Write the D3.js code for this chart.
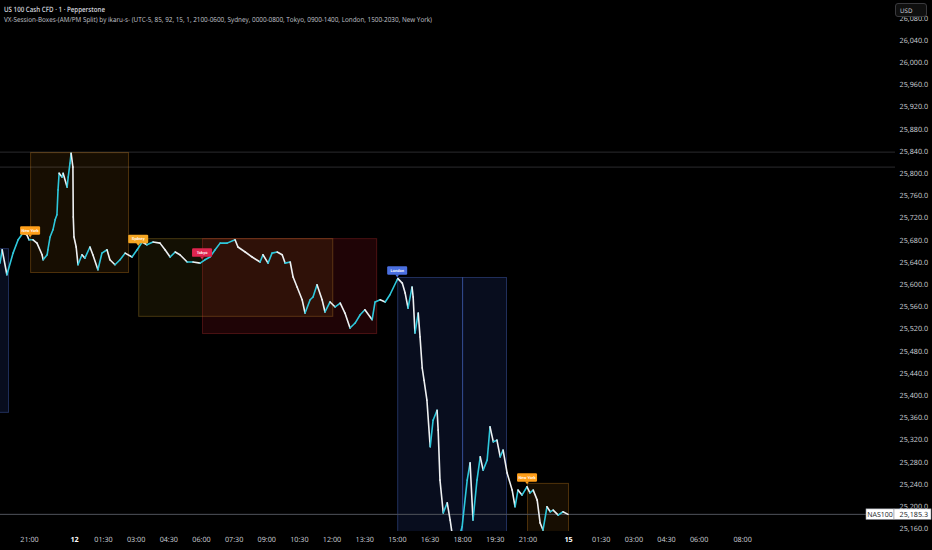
<!DOCTYPE html>
<html><head><meta charset="utf-8">
<script src="https://cdn.jsdelivr.net/npm/d3@7"></script>
<style>
html,body{margin:0;padding:0;background:#000;}
svg{display:block;}
text{text-rendering:geometricPrecision;}
</style></head>
<body>
<svg id="chart" width="932" height="550"></svg>
<script>
// ---- DATA ----
// time in trading minutes from 21:00 (day 11), price closes
const times = [-80,-74,-61,-44,-30,-17,-6,0,11,22,36,39,50,52,58,66,72,77,80,83,91,94,105,108,113,116,121,122,124,130,135,146,154,168,176,190,201,215,223,237,251,265,284,298,312,325,342,361,375,389,403,416,436,452,472,485,499,513,527,546,568,576,596,615,637,645,659,670,684,698,706,720,728,739,753,761,775,783,794,808,816,830,844,858,871,885,899,913,926,946,954,968,982,995,1015,1017,1029,1037,1045,1056,1059,1064,1073,1078,1084,1089,1097,1106,1114,1125,1128,1133,1142,1153,1161,1169,1180,1194,1208,1216,1224,1235,1244,1252,1263,1271,1280,1290,1299,1307,1318,1332,1340,1348,1359,1373,1381,1390,1401,1409,1417,1428,1437,1445,1459,1472,1486];
const closes = [25638,25662,25617,25656,25680,25692,25689,25680,25680,25674,25653,25644,25653,25662,25685,25698,25716,25725,25770,25800,25793,25800,25775,25793,25818,25836,25811,25721,25685,25667,25635,25653,25647,25667,25653,25626,25656,25662,25644,25635,25644,25656,25649,25662,25676,25671,25676,25674,25662,25649,25658,25653,25640,25640,25638,25644,25649,25662,25674,25674,25680,25667,25658,25649,25640,25653,25638,25656,25658,25653,25638,25640,25613,25595,25572,25548,25572,25577,25599,25572,25550,25568,25559,25566,25548,25521,25530,25545,25554,25536,25568,25572,25568,25581,25608,25610,25602,25584,25557,25595,25577,25512,25548,25505,25449,25427,25391,25307,25355,25373,25337,25247,25188,25206,25175,25139,25130,25163,25247,25278,25175,25247,25289,25265,25283,25343,25316,25319,25289,25301,25260,25229,25199,25229,25220,25235,25224,25229,25211,25170,25157,25199,25190,25193,25184,25190,25185.3];

const sessionNames = ["London","New York","Sydney","Tokyo","London","London","New York"];
const sessionStart = [-110,3,301,477,1015,1194,1373];
const sessionEnd   = [-58,273,836,957,1194,1315,1486];
const sessionHigh  = [25665,25838,25683,25683,25613,25613,25242];
const sessionLow   = [25370,25622,25543,25512,25100,25100,25100];
const sessionLabel = [false,true,true,true,true,false,true];

const yTicks = [25160,25200,25240,25280,25320,25360,25400,25440,25480,25520,25560,25600,25640,25680,25720,25760,25800,25840,25880,25920,25960,26000,26040,26080];
const xTickLabels = ["21:00","12","01:30","03:00","04:30","06:00","07:30","09:00","10:30","12:00","13:30","15:00","16:30","18:00","19:30","21:00","15","01:30","03:00","04:30","06:00","08:00"];
const xTickTimes  = [0,124,204,294,384,474,564,654,744,834,924,1014,1104,1194,1284,1374,1486,1576,1666,1756,1846,1966];
const xTickBold   = ["12","15"];
const refLines = [25838,25811];
const lastPrice = 25185.3;
const symbol = "NAS100";

// ---- STYLES ----
const sessColors = {
  "London":  {fill:"rgba(60,100,230,0.13)", stroke:"rgba(90,125,235,0.35)", label:"#4a6fe0"},
  "New York":{fill:"rgba(255,160,20,0.09)", stroke:"rgba(255,160,40,0.28)", label:"#ff9f1a"},
  "Sydney":  {fill:"rgba(255,215,40,0.075)", stroke:"rgba(255,200,60,0.25)", label:"#f5a623"},
  "Tokyo":   {fill:"rgba(220,30,40,0.14)", stroke:"rgba(230,60,60,0.28)", label:"#e0254f"}
};

const W = 932, H = 550;
const plotR = 868, plotB = 531;
const svg = d3.select("#chart");
svg.append("rect").attr("width",W).attr("height",H).attr("fill","#000");

const x = d3.scaleLinear().domain([-80, 2313]).range([0, plotR]);
const y = d3.scaleLinear().domain([25160, 26040]).range([528.4, 40]);

svg.append("defs").append("clipPath").attr("id","clip")
  .append("rect").attr("x",0).attr("y",0).attr("width",plotR).attr("height",plotB);

// reference lines (extend a little into the axis)
svg.selectAll("line.ref").data(refLines).enter().append("line")
  .attr("x1",0).attr("x2",895)
  .attr("y1",d=>y(d)).attr("y2",d=>y(d))
  .attr("stroke","#2b2b2e").attr("stroke-width",1);

const g = svg.append("g").attr("clip-path","url(#clip)");

// session boxes
const sessions = sessionNames.map((n,i)=>({name:n,s:sessionStart[i],e:sessionEnd[i],hi:sessionHigh[i],lo:sessionLow[i],lab:sessionLabel[i]}));
g.selectAll("rect.sess").data(sessions).enter().append("rect")
  .attr("x",d=>x(d.s)+0.5).attr("y",d=>y(d.hi)+0.5)
  .attr("width",d=>x(d.e)-x(d.s)).attr("height",d=>y(d.lo)-y(d.hi))
  .attr("fill",d=>sessColors[d.name].fill)
  .attr("stroke",d=>sessColors[d.name].stroke).attr("stroke-width",1);

// last price line
g.append("line").attr("x1",0).attr("x2",plotR).attr("y1",y(lastPrice)).attr("y2",y(lastPrice))
  .attr("stroke","#50535c").attr("stroke-width",1);

// price series: segments coloured by direction
const pts = times.map((t,i)=>({t,v:closes[i]}));
const segs = pts.slice(1).map((p,i)=>({a:pts[i],b:p}));
g.selectAll("line.seg").data(segs).enter().append("line")
  .attr("x1",d=>x(d.a.t)).attr("y1",d=>y(d.a.v))
  .attr("x2",d=>x(d.b.t)).attr("y2",d=>y(d.b.v))
  .attr("stroke",d=>d.b.v>=d.a.v?"#2ec8dc":"#eef0f2")
  .attr("stroke-width",1.6).attr("stroke-linecap","round");

// session labels
function priceAt(t){
  const i = d3.bisector(d=>d.t).left(pts,t);
  if(i<=0) return pts[0].v;
  if(i>=pts.length) return pts[pts.length-1].v;
  const a=pts[i-1], b=pts[i];
  return a.v + (b.v-a.v)*(t-a.t)/(b.t-a.t);
}
const labs = g.selectAll("g.lab").data(sessions.filter(d=>d.lab)).enter().append("g")
  .attr("transform",d=>`translate(${x(d.s)},${y(priceAt(d.s))-4})`);
labs.append("rect").attr("x",-10).attr("y",-9.5).attr("width",20).attr("height",8.5).attr("rx",1.2)
  .attr("fill",d=>sessColors[d.name].label);
labs.append("path").attr("d","M-2,-1.2L0,1.5L2,-1.2Z").attr("fill",d=>sessColors[d.name].label);
labs.append("text").attr("x",0).attr("y",-3.8).attr("text-anchor","middle")
  .attr("font-family","Roboto, sans-serif").attr("font-size",4).attr("font-weight",600)
  .attr("fill","#fff").text(d=>d.name);

// y axis
const yAxis = svg.append("g").attr("transform",`translate(928,0)`)
  .call(d3.axisLeft(y).tickValues(yTicks).tickSize(0).tickPadding(0)
    .tickFormat(d=>d3.format(",.1f")(d)));
yAxis.select(".domain").remove();
yAxis.selectAll("text").attr("font-family","'Open Sans', sans-serif").attr("font-size",7.2)
  .attr("fill","#d1d4dc");

// x axis
const xAxis = svg.append("g").attr("transform",`translate(0,${plotB})`)
  .call(d3.axisBottom(x).tickValues(xTickTimes).tickSize(0).tickPadding(6)
    .tickFormat((d,i)=>xTickLabels[i]));
xAxis.select(".domain").remove();
xAxis.selectAll("text").attr("font-family","'Open Sans', sans-serif").attr("font-size",7.2)
  .attr("fill",(d,i)=>xTickBold.includes(xTickLabels[i])?"#ffffff":"#d1d4dc")
  .attr("font-weight",(d,i)=>xTickBold.includes(xTickLabels[i])?700:400);

// last price labels
const ly = y(lastPrice);
svg.append("rect").attr("x",866).attr("y",ly-5.5).attr("width",28).attr("height",10.5).attr("fill","#fff").attr("stroke","#9598a1").attr("stroke-width",0.6);
svg.append("rect").attr("x",894).attr("y",ly-5.5).attr("width",37).attr("height",10.5).attr("fill","#fff").attr("stroke","#9598a1").attr("stroke-width",0.6);
svg.append("text").attr("x",880).attr("y",ly+2.5).attr("text-anchor","middle")
  .attr("font-family","'Open Sans', sans-serif").attr("font-size",7).attr("fill","#131722").text(symbol);
svg.append("text").attr("x",928).attr("y",ly+2.5).attr("text-anchor","end")
  .attr("font-family","'Open Sans', sans-serif").attr("font-size",7.2).attr("fill","#131722").text(d3.format(",.1f")(lastPrice));

// USD button
svg.append("rect").attr("x",895.5).attr("y",3.5).attr("width",31).attr("height",13).attr("rx",2.5)
  .attr("fill","#0f0f0f").attr("stroke","#3a3a3e");
svg.append("text").attr("x",900).attr("y",12.5).attr("font-family","'Open Sans', sans-serif")
  .attr("font-size",6.2).attr("fill","#d1d4dc").text("USD");

// titles
svg.append("text").attr("x",4).attr("y",11.5).attr("font-family","'Open Sans', sans-serif")
  .attr("font-size",7.4).attr("font-weight",600).attr("fill","#d1d4dc")
  .attr("textLength",101).attr("lengthAdjust","spacingAndGlyphs")
  .text("US 100 Cash CFD · 1 · Pepperstone");
svg.append("text").attr("x",4).attr("y",21.5).attr("font-family","'Open Sans', sans-serif")
  .attr("font-size",7).attr("fill","#c3c6ce")
  .attr("textLength",428).attr("lengthAdjust","spacingAndGlyphs")
  .text("VX-Session-Boxes-(AM/PM Split) by ikaru-s- (UTC-5, 85, 92, 15, 1, 2100-0600, Sydney, 0000-0800, Tokyo, 0900-1400, London, 1500-2030, New York)");
</script>
</body></html>
